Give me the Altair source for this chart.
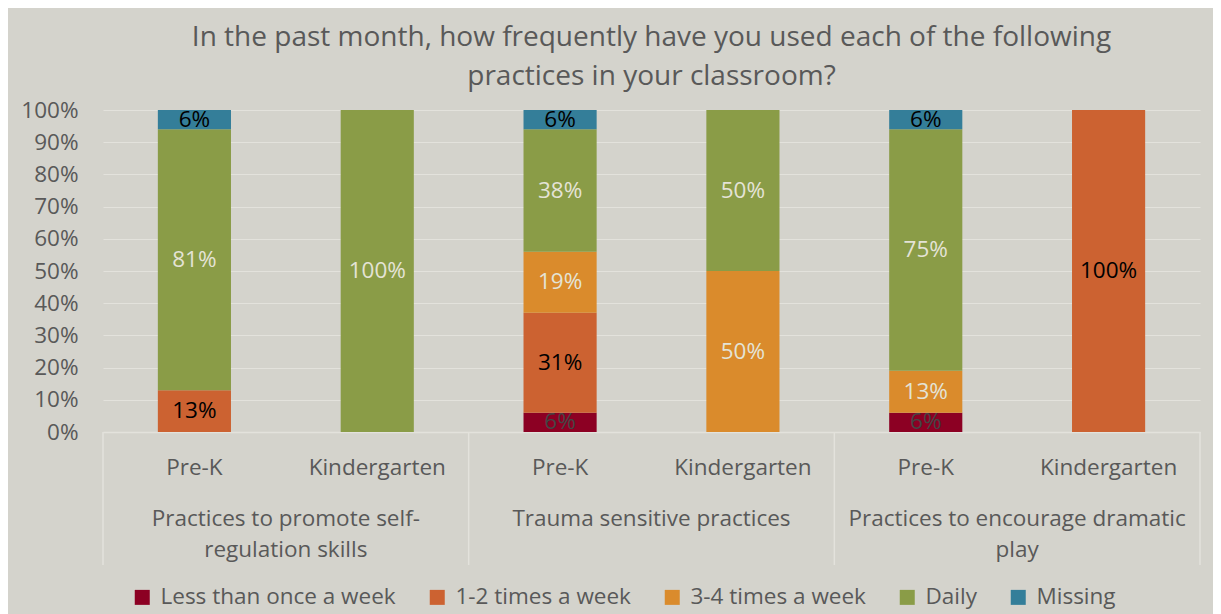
import textwrap
import altair as alt
import pandas as pd

# ---------------- data ----------------
title_lines = [
    "In the past month, how frequently have you used each of the following",
    "practices in your classroom?",
]
groups = [
    "Practices to promote self-regulation skills",
    "Trauma sensitive practices",
    "Practices to encourage dramatic play",
]
grades = ["Pre-K", "Kindergarten"]
series = ["Less than once a week", "1-2 times a week", "3-4 times a week", "Daily", "Missing"]

# values (%) per bar, bars ordered group by group: Pre-K, Kindergarten
less_than_once = [0, 0, 6, 0, 6, 0]
one_two_times = [13, 0, 31, 0, 0, 100]
three_four_times = [0, 0, 19, 50, 13, 0]
daily = [81, 100, 38, 50, 75, 0]
missing = [6, 0, 6, 0, 6, 0]

y_ticks = [0, 10, 20, 30, 40, 50, 60, 70, 80, 90, 100]

# ---------------- styles ----------------
FONT = "Open Sans"
FS = 22.5
BG = "#D4D3CC"
TXT = "#595959"
GRID = "#E3E2DC"
series_colors = ["#8C0023", "#CC6231", "#DA8B2C", "#8A9C47", "#347E99"]
label_colors = {
    "Less than once a week": "#454545",
    "1-2 times a week": "#000000",
    "3-4 times a week": "#E4E3D6",
    "Daily": "#E4E3D6",
    "Missing": "#000000",
}

W, H = 1097, 322
PAD_L, PAD_T = 95, 102
TOTAL_W, TOTAL_H = 1205, 606

# ---------------- tables ----------------
keys = [f"{gi}|{gr}" for gi in range(len(groups)) for gr in grades]
vals = [less_than_once, one_two_times, three_four_times, daily, missing]
rows = []
for si, s in enumerate(series):
    for bi, k in enumerate(keys):
        rows.append({"key": k, "series": s, "order": si, "value": vals[si][bi]})
df = pd.DataFrame(rows)

bounds = pd.DataFrame({"pos": list(range(len(groups) + 1))})
glabels = pd.DataFrame({
    "pos": [i + 0.5 for i in range(len(groups))],
    "name": ["\n".join(textwrap.wrap(g, 31)) for g in groups],
})

x_band = alt.Scale(domain=keys, paddingInner=0.6, paddingOuter=0.3)
y_scale = alt.Scale(domain=[0, 100], nice=False)
y_axis = alt.Axis(values=y_ticks, labelExpr="datum.value + '%'", ticks=False,
                  tickSize=0, domain=False, gridColor=GRID, gridWidth=1.2,
                  labelFont=FONT, labelFontSize=FS, labelColor=TXT,
                  labelOverlap=False, labelPadding=25)

base = (
    alt.Chart(df)
    .transform_filter("datum.value > 0")
    .transform_stack(stack="value", groupby=["key"], as_=["y0", "y1"],
                     sort=[alt.SortField("order", "ascending")])
    .transform_calculate(mid="(datum.y0 + datum.y1) / 2", lab="datum.value + '%'")
)

bars = base.mark_bar().encode(
    x=alt.X("key:N", scale=x_band, sort=keys, title=None,
            axis=alt.Axis(labelExpr="split(datum.label, '|')[1]", labelAngle=0,
                          ticks=False, tickSize=0, domainColor=GRID, domainWidth=1.5,
                          labelFont=FONT, labelFontSize=FS, labelColor=TXT,
                          labelPadding=24)),
    y=alt.Y("y0:Q", scale=y_scale, title=None, axis=y_axis),
    y2="y1:Q",
    color=alt.Color("series:N", scale=alt.Scale(domain=series, range=series_colors),
                    legend=alt.Legend(title=None, orient="none", direction="horizontal",
                                      legendX=28, legendY=476, symbolType="square",
                                      symbolSize=225, symbolStrokeWidth=0,
                                      labelFont=FONT, labelFontSize=FS, labelColor=TXT,
                                      labelLimit=0, labelOffset=7, columnPadding=30,
                                      padding=0)),
    order=alt.Order("order:Q"),
)

text_layers = []
for s in series:
    t = base.transform_filter(alt.datum.series == s).mark_text(
        font=FONT, fontSize=FS, color=label_colors[s], baseline="middle"
    ).encode(
        x=alt.X("key:N", scale=x_band, sort=keys, axis=None),
        y=alt.Y("mid:Q", scale=y_scale, title=None, axis=y_axis),
        text="lab:N",
    )
    text_layers.append(t)

x_q = alt.Scale(domain=[0, len(groups)], nice=False, zero=False)
seps = alt.Chart(bounds).mark_rule(color=GRID, strokeWidth=1.5).encode(
    x=alt.X("pos:Q", scale=x_q, axis=None),
    y=alt.value(H),
    y2=alt.value(H + 133),
)
gtext = alt.Chart(glabels).mark_text(
    font=FONT, fontSize=FS, color=TXT, baseline="top", lineBreak="\n", lineHeight=31
).encode(
    x=alt.X("pos:Q", scale=x_q, axis=None),
    y=alt.value(H + 76),
    text="name:N",
)

chart = (
    alt.layer(bars, *text_layers, seps, gtext)
    .resolve_scale(x="independent")
    .properties(
        width=W, height=H,
        autosize=alt.AutoSizeParams(type="none"),
        padding={"left": PAD_L, "top": PAD_T, "right": TOTAL_W - PAD_L - W,
                 "bottom": TOTAL_H - PAD_T - H},
        title=alt.TitleParams(text=title_lines, font=FONT, fontSize=28, color=TXT,
                              fontWeight="normal", anchor="middle", lineHeight=39,
                              offset=8),
        background=BG,
    )
    .configure_view(stroke=None)
)

chart.save("out.html", embed_options={"renderer": "svg", "actions": False})
